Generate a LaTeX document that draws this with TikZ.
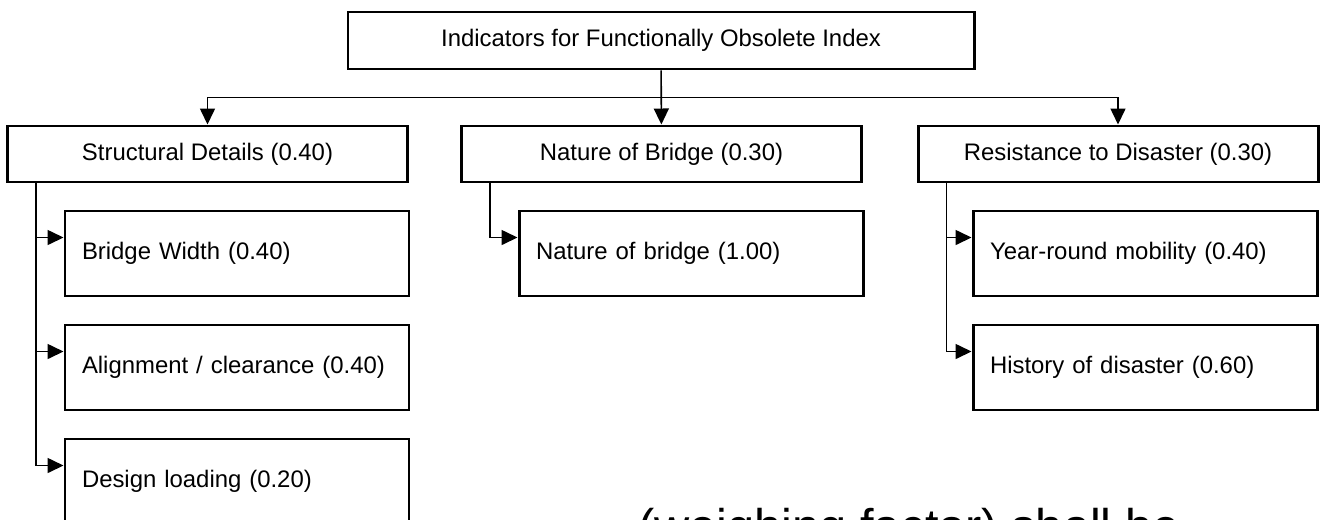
\documentclass[tikz,border=0pt]{standalone}
\usepackage{fontspec}
\setmainfont{Liberation Sans}
\usetikzlibrary{arrows.meta, calc}

\begin{document}
\begin{tikzpicture}[
    >={Triangle[length=0.32cm, width=0.3cm]},
    every node/.style={font=\fontsize{13.6}{16}\selectfont},
    topbox/.style={rectangle, draw, line width=1.7pt, minimum width=12.52cm, minimum height=1.14cm, align=center},
    critbox/.style={rectangle, draw, line width=1.7pt, minimum width=8cm, minimum height=1.12cm, align=center},
    subbox/.style={rectangle, draw, line width=1.7pt, minimum height=1.7cm, inner xsep=0.34cm, text width=6.2cm, align=left},
    arr/.style={->, line width=0.9pt},
]

% ---- frame ----
\useasboundingbox (0,0) rectangle (26.44,10.38);
\clip (0,0) rectangle (26.44,10.38);

% ---- Index ----
\node[topbox] (index) at (13.22, 9.57) {Indicators for Functionally Obsolete Index};

% ---- Three criteria ----
\node[critbox] (struct) at (4.15, 7.30) {Structural Details (0.40)};
\node[critbox] (nature) at (13.23, 7.30) {Nature of Bridge (0.30)};
\node[critbox] (resist) at (22.36, 7.30) {Resistance to Disaster (0.30)};

% ---- Sub-indicators ----
\node[subbox] (width) at (4.74, 5.31) {Bridge Width (0.40)};
\node[subbox] (align) at (4.74, 3.03) {Alignment / clearance (0.40)};
\node[subbox] (load) at (4.74, 0.75) {Design loading (0.20)};

\node[subbox] (natb) at (13.82, 5.31) {Nature of bridge (1.00)};

\node[subbox] (mobil) at (22.90, 5.31) {Year-round mobility (0.40)};
\node[subbox] (hist) at (22.90, 3.03) {History of disaster (0.60)};

% ---- Text below ----
\node[font=\fontsize{27.7}{32}\selectfont, anchor=base west, inner sep=0pt] (note) at (12.76, -0.48) {(weighing factor) shall be};

% ---- Arrows: index to criteria ----
\coordinate (bus) at ($(index.south)!0.5!(nature.north)$);
\draw[arr] (index) -- (nature);
\draw[arr] (bus) -| (struct);
\draw[arr] (bus) -| (resist);

% ---- Arrows: criteria to sub-indicators ----
\draw[arr] ([xshift=0.6cm]struct.south west) |- ([yshift=-0.56cm]width.north west);
\draw[arr] ([xshift=0.6cm]struct.south west) |- ([yshift=-0.56cm]align.north west);
\draw[arr] ([xshift=0.6cm]struct.south west) |- ([yshift=-0.56cm]load.north west);

\draw[arr] ([xshift=0.6cm]nature.south west) |- ([yshift=-0.56cm]natb.north west);

\draw[arr] ([xshift=0.6cm]resist.south west) |- ([yshift=-0.56cm]mobil.north west);
\draw[arr] ([xshift=0.6cm]resist.south west) |- ([yshift=-0.56cm]hist.north west);

\end{tikzpicture}
\end{document}
